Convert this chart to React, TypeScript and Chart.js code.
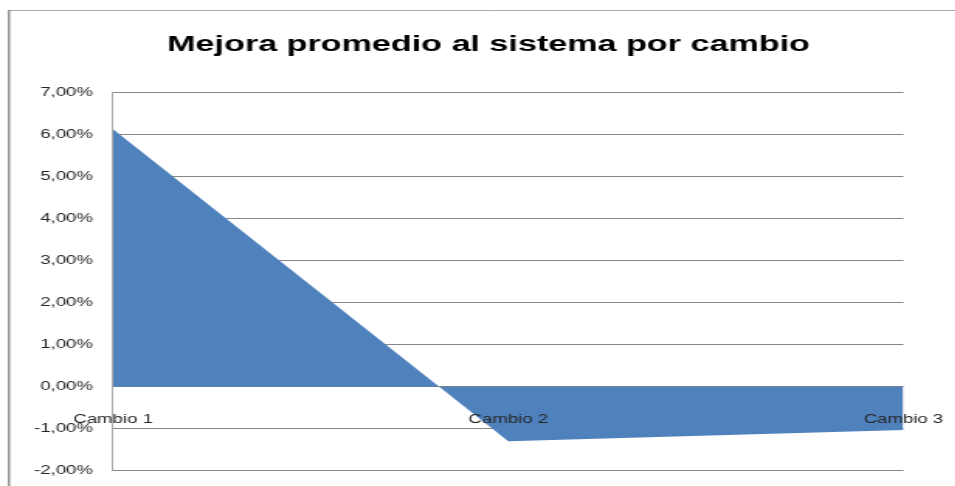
import React, { useEffect, useRef } from 'react';
import { Chart, registerables } from 'chart.js';

Chart.register(...registerables);

// ---- data ----
const categories: string[] = ['Cambio 1', 'Cambio 2', 'Cambio 3'];
const mejoraPromedio: number[] = [6.12, -1.3, -1.03]; // percent
const yMin = -2;
const yMax = 7;
const yStep = 1;
const chartTitle = 'Mejora promedio al sistema por cambio';

// The reference is horizontally stretched; render narrower and stretch with CSS.
const STRETCH = 1.55;
const INTERNAL_W = 630;
const INTERNAL_H = 486;

const FONT = '"Liberation Sans", Arial, sans-serif';

const framePlugin = {
  id: 'outerFrame',
  beforeDraw(chart: any) {
    const ctx = chart.ctx;
    ctx.save();
    ctx.strokeStyle = '#a6a6a6';
    ctx.lineWidth = 1;
    ctx.beginPath();
    ctx.moveTo(5.2, 10.5);
    ctx.lineTo(chart.width, 10.5);
    ctx.stroke();
    ctx.strokeStyle = '#7f7f7f';
    ctx.lineWidth = 1.3;
    ctx.beginPath();
    ctx.moveTo(5.8, 10);
    ctx.lineTo(5.8, chart.height);
    ctx.stroke();
    ctx.restore();
  },
};

export default function App() {
  const canvasRef = useRef<HTMLCanvasElement | null>(null);

  useEffect(() => {
    document.body.style.margin = '0';
    const canvas = canvasRef.current;
    if (!canvas) return;
    const chart = new Chart(canvas, {
      type: 'line',
      data: {
        labels: categories,
        datasets: [
          {
            label: 'Mejora',
            data: mejoraPromedio,
            fill: 'origin',
            backgroundColor: '#4F81BD',
            borderColor: '#4F81BD',
            borderWidth: 0,
            pointRadius: 0,
            tension: 0,
          },
        ],
      },
      options: {
        responsive: false,
        devicePixelRatio: 1,
        animation: false,
        layout: {
          padding: { left: 0, right: 0, top: 0, bottom: INTERNAL_H - 470.8 },
        },
        plugins: {
          legend: { display: false },
          tooltip: { enabled: false },
          title: {
            display: true,
            text: chartTitle,
            color: '#000000',
            font: { family: FONT, size: 22, weight: 'bold' },
            padding: { top: 31.6, bottom: 34.3 },
          },
        },
        scales: {
          x: {
            type: 'category',
            position: { y: 0 } as any,
            offset: false,
            grid: { display: false },
            border: { display: false },
            ticks: {
              z: 1,
              color: '#262626',
              font: { family: FONT, size: 12 },
              padding: 18,
              maxRotation: 0,
              autoSkip: false,
            },
            afterFit: (scale: any) => {
              scale.paddingLeft = 0;
              scale.paddingRight = INTERNAL_W - 903 / STRETCH;
            },
          },
          y: {
            position: 'left',
            min: yMin,
            max: yMax,
            grid: { color: '#868686', lineWidth: 1, drawTicks: false },
            border: { display: true, color: '#868686', width: 0.7 },
            ticks: {
              stepSize: yStep,
              color: '#262626',
              font: { family: FONT, size: 12 },
              padding: 13,
              callback: (v: any) => Number(v).toFixed(2).replace('.', ',') + '%',
            },
            afterFit: (scale: any) => {
              scale.width = 113 / STRETCH;
              scale.paddingTop = 0;
              scale.paddingBottom = 0;
            },
          },
        },
      },
      plugins: [framePlugin],
    });
    return () => chart.destroy();
  }, []);

  return (
    <div style={{ position: 'absolute', left: 0, top: 0, width: 955, height: 486, overflow: 'hidden', background: '#fff' }}>
      <canvas
        ref={canvasRef}
        width={INTERNAL_W}
        height={INTERNAL_H}
        style={{ width: `${INTERNAL_W * STRETCH}px`, height: `${INTERNAL_H}px`, display: 'block' }}
      />
    </div>
  );
}
